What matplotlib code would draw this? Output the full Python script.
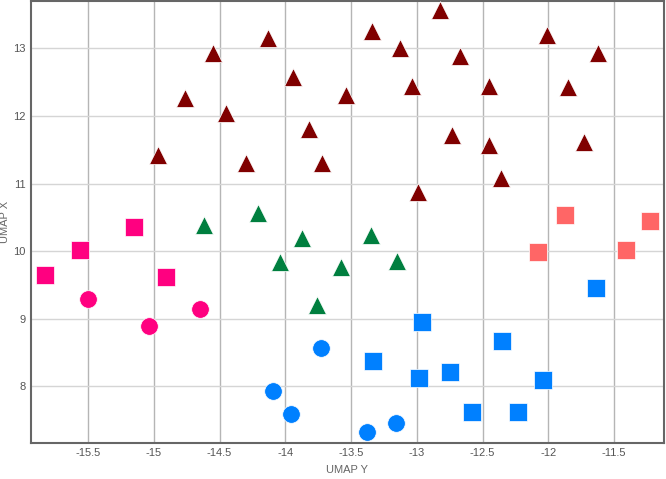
#Import necessary libraries
import numpy as np
import matplotlib
matplotlib.use('Agg')
import matplotlib.pyplot as plt

plt.rcParams['font.family'] = ['Liberation Sans', 'DejaVu Sans']

#Data: (UMAP Y, UMAP X) per group
red_tri_y = [-14.97, -14.76, -14.55, -14.45, -14.30, -14.13, -13.94, -13.82, -13.72, -13.54,
             -13.34, -13.13, -13.04, -12.82, -12.67, -12.73, -12.45, -12.45, -12.36, -12.99,
             -12.01, -11.85, -11.73, -11.62]
red_tri_x = [11.42, 12.26, 12.93, 12.05, 11.31, 13.15, 12.57, 11.80, 11.31, 12.31,
             13.25, 13.01, 12.44, 13.57, 12.88, 11.72, 12.44, 11.57, 11.08, 10.88,
             13.20, 12.43, 11.62, 12.93]

green_tri_y = [-14.62, -14.21, -14.04, -13.87, -13.76, -13.58, -13.35, -13.15]
green_tri_x = [10.38, 10.57, 9.84, 10.19, 9.20, 9.77, 10.24, 9.86]

pink_sq_y = [-15.83, -15.56, -15.15, -14.91]
pink_sq_x = [9.65, 10.02, 10.36, 9.62]

pink_circ_y = [-15.50, -15.04, -14.65]
pink_circ_x = [9.30, 8.89, 9.15]

blue_circ_y = [-13.73, -14.09, -13.96, -13.38, -13.16]
blue_circ_x = [8.57, 7.93, 7.59, 7.32, 7.46]

blue_sq_y = [-12.96, -13.33, -12.98, -12.75, -12.35, -12.58, -12.23, -12.04, -11.64]
blue_sq_x = [8.96, 8.37, 8.12, 8.21, 8.67, 7.62, 7.62, 8.10, 9.45]

salmon_sq_y = [-12.08, -11.41, -11.87, -11.23]
salmon_sq_x = [9.99, 10.02, 10.53, 10.45]

#Figure
fig = plt.figure(figsize=(6.66, 4.79), dpi=100)
ax = fig.add_axes([0.0465, 0.076, 0.9505, 0.922])

kw = dict(edgecolors='white', linewidths=0.5, zorder=3)
ax.scatter(red_tri_y, red_tri_x, marker='^', s=165, color='#800000', **kw)
ax.scatter(green_tri_y, green_tri_x, marker='^', s=165, color='#007F3F', **kw)
ax.scatter(pink_sq_y, pink_sq_x, marker='s', s=150, color='#FF0080', **kw)
ax.scatter(pink_circ_y, pink_circ_x, marker='o', s=160, color='#FF0080', **kw)
ax.scatter(blue_circ_y, blue_circ_x, marker='o', s=160, color='#0080FF', **kw)
ax.scatter(blue_sq_y, blue_sq_x, marker='s', s=150, color='#0080FF', **kw)
ax.scatter(salmon_sq_y, salmon_sq_x, marker='s', s=150, color='#FF6666', **kw)

ax.set_xlim(-15.934, -11.12)
ax.set_ylim(7.17, 13.70)
ax.set_xticks(np.arange(-15.5, -11.4, 0.5))
ax.set_xticklabels(['-15.5', '-15', '-14.5', '-14', '-13.5', '-13', '-12.5', '-12', '-11.5'])
ax.set_yticks([8, 9, 10, 11, 12, 13])

ax.xaxis.grid(True, color='#b5b5b5', linewidth=1.0)
ax.yaxis.grid(True, color='#d5d5d5', linewidth=1.0)
ax.set_axisbelow(True)

for sp in ax.spines.values():
    sp.set_color('#666666')
    sp.set_linewidth(1.5)

ax.tick_params(length=0, labelsize=8, labelcolor='#555555', pad=4)
ax.set_xlabel('UMAP Y', fontsize=8, color='#666666', labelpad=5)
ax.set_ylabel('UMAP X', fontsize=8, color='#666666', labelpad=2)

fig.savefig('out.png', dpi=100)
